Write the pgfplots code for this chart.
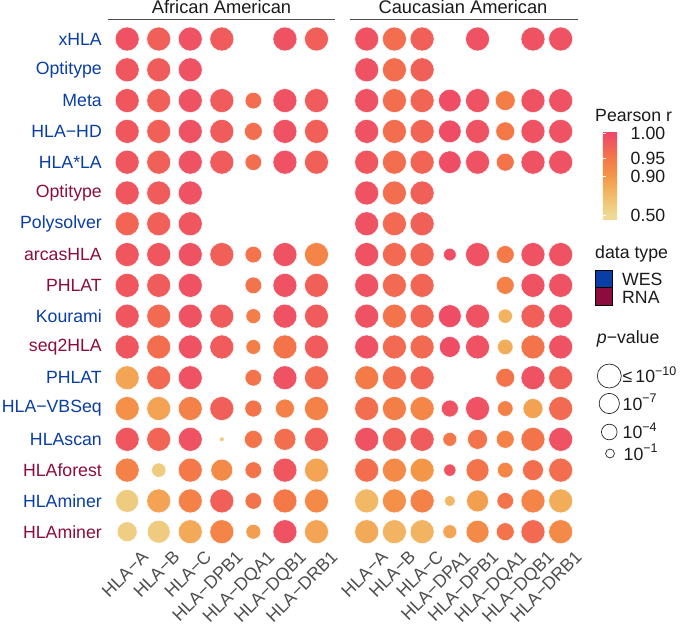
\documentclass[border=0pt]{standalone}
\usepackage{pgfplots}
\pgfplotsset{compat=1.18}
\usepackage{pgfplotstable}
\usepackage{fontspec}
\setmainfont{Liberation Sans}
\definecolor{wes}{RGB}{8,62,166}
\definecolor{rna}{RGB}{140,12,62}
\definecolor{txtgray}{RGB}{77,77,77}
\definecolor{titleblack}{RGB}{26,26,26}
\newcommand\fs{\fontsize{17.7pt}{21pt}\selectfont}
\newcommand\ftitle{\fontsize{18.3pt}{22pt}\selectfont}
\newcommand\sups[1]{\raisebox{0.42em}{\fontsize{12.5pt}{13pt}\selectfont #1}}

% African American: row col r s   (s = -log10 p, capped at 10)
\pgfplotstableread{
row col r s
1 1 0.99 10
1 2 0.975 10
1 3 0.99 10
1 4 0.98 10
1 6 0.99 10
1 7 0.975 10
2 1 0.985 10
2 2 0.98 10
2 3 0.99 10
3 1 0.985 10
3 2 0.975 10
3 3 0.99 10
3 4 0.98 10
3 5 0.96 4.6
3 6 0.99 10
3 7 0.98 10
4 1 0.985 10
4 2 0.975 10
4 3 0.99 10
4 4 0.98 10
4 5 0.96 5.4
4 6 0.99 10
4 7 0.975 10
5 1 0.985 10
5 2 0.975 10
5 3 0.99 10
5 4 0.98 10
5 5 0.96 4.6
5 6 0.99 10
5 7 0.975 10
6 1 0.985 10
6 2 0.98 10
6 3 0.99 10
7 1 0.97 10
7 2 0.975 10
7 3 0.985 10
8 1 0.985 10
8 2 0.985 10
8 3 0.99 10
8 4 0.975 10
8 5 0.955 4.6
8 6 0.99 10
8 7 0.93 10
9 1 0.985 10
9 2 0.98 10
9 3 0.99 10
9 5 0.955 4.6
9 6 0.99 10
9 7 0.975 10
10 1 0.985 10
10 2 0.965 10
10 3 0.99 10
10 4 0.98 10
10 5 0.94 3.6
10 6 0.99 10
10 7 0.98 10
11 1 0.985 10
11 2 0.96 10
11 3 0.99 10
11 4 0.98 10
11 5 0.94 3.6
11 6 0.955 10
11 7 0.98 10
12 1 0.82 10
12 2 0.965 10
12 3 0.99 10
12 5 0.955 4.6
12 6 0.99 10
12 7 0.965 10
13 1 0.91 10
13 2 0.83 10
13 3 0.935 10
13 4 0.975 10
13 5 0.955 4.8
13 6 0.935 6.1
13 7 0.935 10
14 1 0.985 10
14 2 0.97 10
14 3 0.99 10
14 4 0.6 0
14 5 0.955 5.4
14 6 0.96 8.3
14 7 0.975 10
15 1 0.935 10
15 2 0.6 3.3
15 3 0.95 10
15 4 0.92 8.3
15 5 0.955 4.6
15 6 0.985 10
15 7 0.82 10
16 1 0.6 9.1
16 2 0.83 10
16 3 0.935 10
16 4 0.975 10
16 5 0.955 4.6
16 6 0.95 10
16 7 0.92 10
17 1 0.58 6.8
17 2 0.6 9.1
17 3 0.8 10
17 4 0.93 10
17 5 0.86 3.6
17 6 0.99 10
17 7 0.82 10
}\aadata

% Caucasian American
\pgfplotstableread{
row col r s
1 1 0.99 10
1 2 0.96 10
1 3 0.975 10
1 5 0.99 10
1 7 0.99 10
1 8 0.99 10
2 1 0.99 10
2 2 0.96 10
2 3 0.975 10
3 1 0.99 10
3 2 0.96 10
3 3 0.97 10
3 4 0.995 8.9
3 5 0.99 10
3 6 0.94 6.8
3 7 0.99 10
3 8 0.99 10
4 1 0.99 10
4 2 0.96 10
4 3 0.97 10
4 4 0.995 8.9
4 5 0.99 10
4 6 0.95 6.1
4 7 0.99 10
4 8 0.99 10
5 1 0.985 10
5 2 0.96 10
5 3 0.97 10
5 4 0.995 8.9
5 5 0.99 10
5 6 0.955 5.4
5 7 0.99 10
5 8 0.99 10
6 1 0.99 10
6 2 0.96 10
6 3 0.975 10
7 1 0.99 10
7 2 0.965 10
7 3 0.975 10
8 1 0.99 10
8 2 0.965 10
8 3 0.97 10
8 4 0.995 2.5
8 5 0.99 10
8 6 0.945 5.4
8 7 0.99 10
8 8 0.99 10
9 1 0.99 10
9 2 0.965 10
9 3 0.97 10
9 6 0.935 5.4
9 7 0.99 10
9 8 0.99 10
10 1 0.99 10
10 2 0.955 10
10 3 0.97 10
10 4 0.995 9.1
10 5 0.99 10
10 6 0.75 3.3
10 7 0.975 10
10 8 0.99 10
11 1 0.99 10
11 2 0.965 10
11 3 0.965 10
11 4 0.995 7.5
11 5 0.99 10
11 6 0.78 4.0
11 7 0.955 10
11 8 0.99 10
12 1 0.945 10
12 2 0.96 10
12 3 0.97 10
12 6 0.955 6.1
12 7 0.99 10
12 8 0.975 10
13 1 0.96 10
13 2 0.94 10
13 3 0.925 10
13 4 0.99 4.8
13 5 0.99 10
13 6 0.935 4.0
13 7 0.84 6.8
13 8 0.965 10
14 1 0.99 10
14 2 0.975 10
14 3 0.98 10
14 4 0.95 3.1
14 5 0.955 6.8
14 6 0.935 5.4
14 7 0.955 10
14 8 0.99 10
15 1 0.96 10
15 2 0.92 10
15 3 0.90 10
15 4 0.99 2.3
15 5 0.955 9.1
15 6 0.925 4.0
15 7 0.96 7.5
15 8 0.96 10
16 1 0.72 10
16 2 0.91 10
16 3 0.935 10
16 4 0.72 1.8
16 5 0.85 8.3
16 6 0.955 4.6
16 7 0.93 10
16 8 0.78 10
17 1 0.8 10
17 2 0.74 10
17 3 0.74 10
17 4 0.82 3.1
17 5 0.92 9.1
17 6 0.955 5.4
17 7 0.965 10
17 8 0.92 10
}\cadata

\pgfplotsset{
  colormap={pr}{rgb255(0pt)=(238,218,150) rgb255(6pt)=(238,218,150) rgb255(29.8pt)=(241,188,104) rgb255(53.6pt)=(244,150,72) rgb255(75.5pt)=(244,120,72) rgb255(106pt)=(238,72,104) rgb255(108pt)=(238,72,104)},
  bubble/.style={only marks, mark=*, scatter,
    point meta=explicit,
    scatter/use mapped color={draw=white, fill=mapped color},
    visualization depends on={sqrt(6+13.8*\thisrow{s}) \as \msize},
    scatter/@pre marker code/.append style={/tikz/mark size=\msize pt},
    mark options={line width=0.5pt}},
  panel/.style={scale only axis, height=523.5pt, ymin=0.5, ymax=17.5, y dir=reverse,
    anchor=north west, clip=false, colormap name=pr,
    point meta min=-0.06, point meta max=1.02,
    axis line style={draw=none}, major tick length=0pt, tick style={draw=none},
    ytick={1,...,17},
    xticklabel style={rotate=45, anchor=north east, inner sep=0pt, text=txtgray, font=\fs, xshift=8pt, yshift=-11pt},
    yticklabel style={anchor=east, inner sep=0pt, xshift=-9.4pt, font=\fs}},
}

\begin{document}
\begin{tikzpicture}
\path[use as bounding box] (0,0) rectangle (685pt,632pt);

% overlay axis in pixel coordinates for titles and legends
\begin{axis}[at={(0pt,0pt)}, anchor=south west, scale only axis, width=685pt, height=632pt,
  xmin=0, xmax=685, ymin=0, ymax=632, y dir=reverse, hide axis, clip=false]
\node[font=\ftitle, text=titleblack, anchor=base, inner sep=0pt] at (axis cs:221.5,13.5) {African American};
\node[font=\ftitle, text=titleblack, anchor=base, inner sep=0pt] at (axis cs:463,13.5) {Caucasian American};
\draw[line width=1pt, txtgray] (axis cs:108,20) -- (axis cs:335,20);
\draw[line width=1pt, txtgray] (axis cs:350,20) -- (axis cs:577.5,20);
\node[font=\fs, text=titleblack, anchor=base west, inner sep=0pt] at (axis cs:595,121) {Pearson r};
\node[font=\fs, text=titleblack, anchor=base west, inner sep=0pt] at (axis cs:595,258) {data type};
\addplot[only marks, mark=square*, mark size=8.7pt, mark options={draw=none, fill=wes}] coordinates {(603.5,278.6)};
\addplot[only marks, mark=square*, mark size=8.7pt, mark options={draw=none, fill=rna}] coordinates {(603.5,296.1)};
\node[font=\fs, text=titleblack, anchor=base west, inner sep=0pt] at (axis cs:622,285) {WES};
\node[font=\fs, text=titleblack, anchor=base west, inner sep=0pt] at (axis cs:622,303.3) {RNA};
\node[font=\fs, text=titleblack, anchor=base west, inner sep=0pt] at (axis cs:596.7,343.3) {\textit{p}−value};
\addplot[only marks, mark=*, mark options={draw=black!85, fill=white, line width=0.7pt},
  visualization depends on={sqrt(6+13.8*\thisrow{s}) \as \msize},
  scatter, point meta=explicit, scatter/use mapped color={draw=black!85, fill=white},
  scatter/@pre marker code/.append style={/tikz/mark size=\msize pt}] table[x=x, y=y, meta=s] {
x y s
609.3 376 10
609.3 403.5 7
609.3 432 4
610 453.5 1
};
\node[font=\fs, text=titleblack, anchor=base west, inner sep=0pt] at (axis cs:622.5,382.5) {≤\hspace{3pt}10\sups{−10}};
\node[font=\fs, text=titleblack, anchor=base west, inner sep=0pt] at (axis cs:622.5,410) {10\sups{−7}};
\node[font=\fs, text=titleblack, anchor=base west, inner sep=0pt] at (axis cs:622.5,438.5) {10\sups{−4}};
\node[font=\fs, text=titleblack, anchor=base west, inner sep=0pt] at (axis cs:623.5,460) {10\sups{−1}};
\end{axis}

% African American panel
\begin{axis}[panel, at={(111.4pt,608.4pt)}, width=220.85pt, xmin=0.5, xmax=7.5,
  xtick={1,...,7},
  xticklabels={HLA−A,HLA−B,HLA−C,HLA−DPB1,HLA−DQA1,HLA−DQB1,HLA−DRB1},
  yticklabels={\textcolor{wes}{xHLA},\textcolor{wes}{Optitype},\textcolor{wes}{Meta},\textcolor{wes}{HLA−HD},\textcolor{wes}{HLA*LA},\textcolor{rna}{Optitype},\textcolor{wes}{Polysolver},\textcolor{rna}{arcasHLA},\textcolor{rna}{PHLAT},\textcolor{wes}{Kourami},\textcolor{rna}{seq2HLA},\textcolor{wes}{PHLAT},\textcolor{wes}{HLA−VBSeq},\textcolor{wes}{HLAscan},\textcolor{rna}{HLAforest},\textcolor{wes}{HLAminer},\textcolor{rna}{HLAminer}}]
\addplot[bubble] table[x=col, y=row, meta expr={\thisrow{r}>=0.95 ? 0.695+(\thisrow{r}-0.95)*6.1 : (\thisrow{r}>=0.9 ? 0.476+(\thisrow{r}-0.9)*4.38 : (\thisrow{r}-0.5)*1.19)}] {\aadata};
\end{axis}

% Caucasian American panel
\begin{axis}[panel, at={(352.84pt,608.4pt)}, width=221.7pt, xmin=0.5, xmax=8.5,
  xtick={1,...,8},
  xticklabels={HLA−A,HLA−B,HLA−C,HLA−DPA1,HLA−DPB1,HLA−DQA1,HLA−DQB1,HLA−DRB1},
  yticklabels={},
  colorbar,
  colorbar style={at={(594.3pt,500.3pt)}, anchor=north west,
    scale only axis, width=18pt, height=88.3pt,
    ytick={0,0.476,0.695,1}, yticklabels={0.50,0.90,0.95,1.00},
    axis line style={draw=none}, ytick pos=both, yticklabel pos=right,
    tick align=inside, major tick length=3.6pt, tick style={white, line width=0.7pt},
    yticklabel style={font=\fs, text=titleblack, anchor=west, inner sep=0pt, xshift=9.7pt}}]
\addplot[bubble] table[x=col, y=row, meta expr={\thisrow{r}>=0.95 ? 0.695+(\thisrow{r}-0.95)*6.1 : (\thisrow{r}>=0.9 ? 0.476+(\thisrow{r}-0.9)*4.38 : (\thisrow{r}-0.5)*1.19)}] {\cadata};
\end{axis}
\end{tikzpicture}
\end{document}
